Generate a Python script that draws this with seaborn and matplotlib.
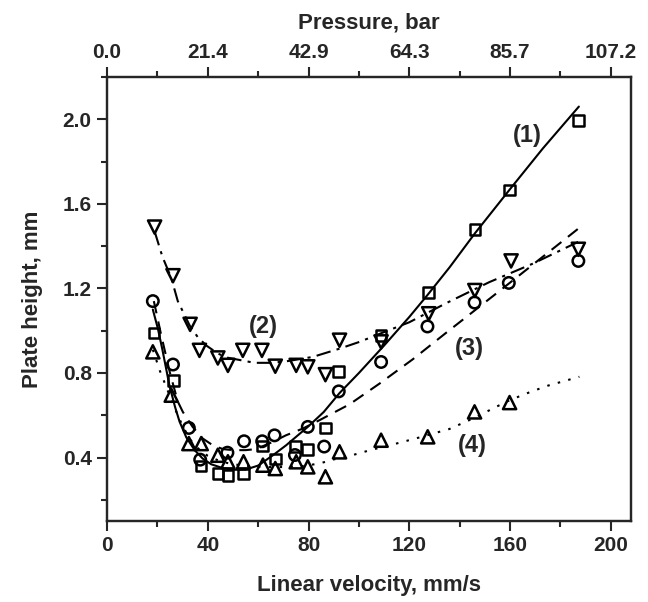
#Packages up front
import numpy as np
import pandas as pd
import matplotlib
matplotlib.use('Agg')
import matplotlib.pyplot as plt
from matplotlib.ticker import MultipleLocator
import seaborn as sns

#Measured points, linear velocity (mm/s) and plate height (mm)
#(1) squares
sq_u = [18.6, 26.4, 37.4, 44.0, 48.0, 54.2, 61.7, 67.0, 74.9, 79.7, 86.7, 92.0, 108.8, 127.7, 146.1, 159.8, 187.1]
sq_h = [0.99, 0.765, 0.36, 0.325, 0.315, 0.322, 0.455, 0.393, 0.452, 0.438, 0.54, 0.808, 0.978, 1.18, 1.478, 1.665, 1.995]
#(2) down triangles
tv_u = [18.9, 26.2, 33.0, 36.7, 44.0, 48.0, 53.9, 61.5, 66.8, 75.1, 79.7, 86.7, 92.3, 108.8, 127.7, 146.0, 160.4, 187.1]
tv_h = [1.49, 1.26, 1.03, 0.907, 0.871, 0.836, 0.907, 0.907, 0.832, 0.836, 0.829, 0.792, 0.955, 0.947, 1.08, 1.19, 1.33, 1.385]
#(3) circles
ci_u = [18.2, 26.2, 32.5, 37.0, 47.8, 54.4, 61.6, 66.5, 74.6, 79.7, 86.2, 92.0, 108.8, 127.2, 145.9, 159.5, 187.1]
ci_h = [1.14, 0.84, 0.54, 0.39, 0.423, 0.477, 0.477, 0.505, 0.412, 0.545, 0.452, 0.713, 0.852, 1.02, 1.133, 1.226, 1.33]
#(4) up triangles
tu_u = [18.2, 25.5, 32.5, 37.4, 44.0, 48.0, 54.2, 61.9, 66.8, 75.1, 79.7, 86.7, 92.3, 108.8, 127.3, 145.9, 159.8]
tu_h = [0.90, 0.695, 0.466, 0.466, 0.411, 0.38, 0.38, 0.364, 0.348, 0.38, 0.356, 0.309, 0.427, 0.482, 0.498, 0.616, 0.66]

#Fitted curves
c1_u = [18.2, 20.2, 22.0, 24.8, 27.0, 28.8, 31.5, 34.8, 38.0, 41.4, 46.0, 50.0, 55.0, 60.0, 66.0, 71.1, 79.7, 86.0, 92.3, 100.0, 110.0, 120.0, 127.3, 136.0, 146.0, 160.0, 173.0, 187.3]
c1_h = [1.10, 1.01, 0.91, 0.74, 0.64, 0.57, 0.495, 0.435, 0.395, 0.368, 0.35, 0.342, 0.343, 0.362, 0.412, 0.458, 0.545, 0.615, 0.705, 0.80, 0.93, 1.065, 1.17, 1.30, 1.46, 1.67, 1.862, 2.06]
c2_u = [18.9, 22.0, 25.5, 28.1, 32.8, 36.0, 39.4, 44.0, 48.0, 53.3, 58.6, 65.0, 71.1, 81.7, 92.3, 100.2, 108.2, 120.0, 134.6, 151.8, 169.0, 187.0]
c2_h = [1.47, 1.35, 1.25, 1.14, 1.025, 0.97, 0.93, 0.892, 0.872, 0.86, 0.848, 0.848, 0.855, 0.876, 0.915, 0.947, 0.985, 1.04, 1.13, 1.23, 1.317, 1.42]
c3_u = [18.6, 21.5, 25.0, 28.1, 30.1, 34.0, 38.0, 42.0, 46.0, 50.0, 55.0, 59.2, 65.8, 71.0, 77.7, 84.4, 96.3, 108.2, 121.4, 134.6, 148.0, 164.0, 187.1]
c3_h = [1.14, 0.98, 0.80, 0.665, 0.616, 0.545, 0.49, 0.458, 0.44, 0.435, 0.435, 0.44, 0.474, 0.505, 0.537, 0.577, 0.652, 0.75, 0.865, 0.99, 1.115, 1.265, 1.483]
c4_u = [18.2, 21.0, 24.0, 27.0, 30.0, 33.0, 36.0, 40.0, 45.0, 50.0, 56.0, 62.0, 70.0, 78.0, 84.4, 89.6, 97.0, 104.2, 116.1, 124.0, 135.9, 145.9, 154.5, 160.0, 168.0, 175.0, 187.5]
c4_h = [0.91, 0.81, 0.72, 0.63, 0.55, 0.485, 0.445, 0.408, 0.382, 0.368, 0.36, 0.355, 0.355, 0.36, 0.372, 0.39, 0.41, 0.434, 0.47, 0.495, 0.535, 0.588, 0.64, 0.672, 0.71, 0.74, 0.782]

#Curve labels and where they sit
curve_labels = ['(1)', '(2)', '(3)', '(4)']
label_u = [167.0, 62.0, 144.0, 145.2]
label_h = [1.925, 1.02, 0.915, 0.458]

#Top axis: pressure ticks sitting on the velocity ticks
vel_ticks = [0, 40, 80, 120, 160, 200]
pressure_labels = ['0.0', '21.4', '42.9', '64.3', '85.7', '107.2']

sns.set_style('ticks')
plt.rcParams['font.family'] = ['Liberation Sans', 'DejaVu Sans']
plt.rcParams['font.weight'] = 'bold'
plt.rcParams['axes.linewidth'] = 1.5

fig = plt.figure(figsize=(6.48, 6.02), dpi=100)
ax = fig.add_axes([0.1651, 0.1346, 0.8087, 0.7375])

#Curves first so the markers sit on top
line_styles = ['-', (0, (7, 3, 1.5, 3)), (0, (6, 4)), (0, (1.2, 4))]
curves = [(c1_u, c1_h), (c2_u, c2_h), (c3_u, c3_h), (c4_u, c4_h)]
for (cu, ch), ls in zip(curves, line_styles):
    sns.lineplot(x=cu,
                 y=ch,
                 sort=False,
                 estimator=None,
                 color='black',
                 lw=1.5,
                 linestyle=ls,
                 ax=ax
                )

#Measured points as open markers
points = [(sq_u, sq_h, 's', 58), (tv_u, tv_h, 'v', 90), (ci_u, ci_h, 'o', 68), (tu_u, tu_h, '^', 90)]
for pu, ph, mk, size in points:
    sns.scatterplot(x=pu,
                    y=ph,
                    marker=mk,
                    s=size,
                    facecolor='none',
                    edgecolor='black',
                    linewidth=1.8,
                    ax=ax,
                    zorder=3
                   )

for txt, lu, lh in zip(curve_labels, label_u, label_h):
    ax.text(lu, lh, txt, fontsize=17, fontweight='bold', ha='center', va='center')

ax.set_xlim(0, 208)
ax.set_ylim(0.1, 2.2)
ax.xaxis.set_major_locator(MultipleLocator(40))
ax.xaxis.set_minor_locator(MultipleLocator(20))
ax.yaxis.set_major_locator(MultipleLocator(0.4))
ax.yaxis.set_minor_locator(MultipleLocator(0.2))
ax.set_yticks([0.4, 0.8, 1.2, 1.6, 2.0])
ax.set_yticklabels(['0.4', '0.8', '1.2', '1.6', '2.0'])
ax.tick_params(which='major', direction='out', length=7, width=1.5, labelsize=15, pad=4)
ax.tick_params(which='minor', direction='out', length=4, width=1.5)
ax.set_xlabel('Linear velocity, mm/s', fontsize=16, fontweight='bold', labelpad=14)
ax.set_ylabel('Plate height, mm', fontsize=16, fontweight='bold', labelpad=14)

#Pressure scale along the top
top = ax.twiny()
top.set_xlim(ax.get_xlim())
top.set_xticks(vel_ticks)
top.set_xticklabels(pressure_labels)
top.xaxis.set_minor_locator(MultipleLocator(20))
top.tick_params(which='major', direction='out', length=7, width=1.5, labelsize=15, pad=4)
top.tick_params(which='minor', direction='out', length=4, width=1.5)
top.set_xlabel('Pressure, bar', fontsize=16, fontweight='bold', labelpad=10)
for a in (ax, top):
    for sp in a.spines.values():
        sp.set_linewidth(1.6)

fig.savefig('out.png', dpi=100)
